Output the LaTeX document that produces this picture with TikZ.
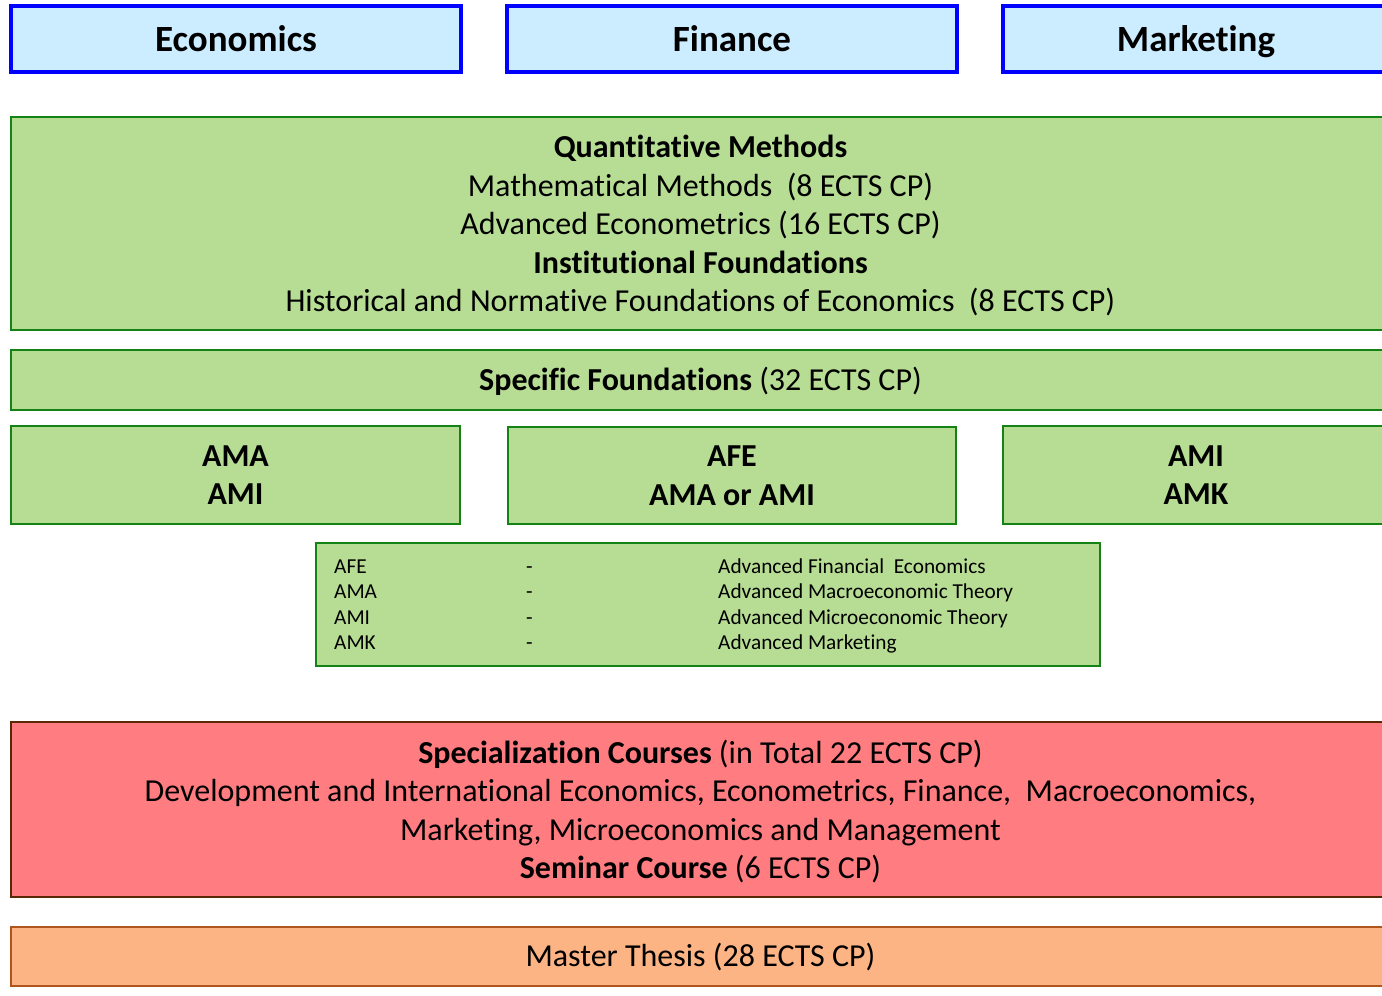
\documentclass[tikz,border=0pt]{standalone}
\usepackage{fontspec}
\setmainfont{Carlito}[Ligatures=CommonOff]
\usetikzlibrary{positioning}
\definecolor{trackblue}{RGB}{0,0,255}
\definecolor{trackfill}{RGB}{204,236,255}
\definecolor{basegreen}{RGB}{183,221,148}
\definecolor{basegreenline}{RGB}{20,130,20}
\definecolor{specred}{RGB}{255,124,128}
\definecolor{specredline}{RGB}{90,40,5}
\definecolor{thesisorange}{RGB}{253,180,132}
\definecolor{thesisline}{RGB}{175,85,30}

\newcommand{\headsize}{\fontsize{37}{44}\selectfont}
\newcommand{\bodysize}{\fontsize{32}{38.5}\selectfont}
\newcommand{\legendsize}{\fontsize{21.3}{25.3}\selectfont}

\tikzset{
  trackbox/.style={draw=trackblue, line width=4.5pt, fill=trackfill, inner sep=0pt,
    minimum height=66pt, text height=24pt, text depth=0pt, font=\headsize\bfseries},
  basebox/.style={draw=basegreenline, line width=2pt, fill=basegreen, inner sep=0pt,
    align=center, text depth=0pt, font=\bodysize},
  oneline/.style={text height=20.6pt, text depth=0pt},
  legendcol/.style={anchor=west, inner sep=0pt, align=left, font=\legendsize},
}

\begin{document}
\begin{tikzpicture}[x=1pt, y=-1pt]
\useasboundingbox (0,0) rectangle (1382,996);
\fill[white] (0,0) rectangle (1382,996);
\clip (0,0) rectangle (1382,996);

% study tracks
\node[trackbox, minimum width=450pt] (econ) at (236,39) {Economics};
\node[trackbox, minimum width=450pt] (fin) at (732,39) {Finance};
\node[trackbox, minimum width=386pt] (mkt) at (1196,39) {Marketing};

% common foundations
\node[basebox, minimum width=1379pt, minimum height=213pt] (quant) at (700.5,223.5) {
\textbf{Quantitative Methods}\\
Mathematical Methods~ (8 ECTS CP)\\
Advanced Econometrics (16 ECTS CP)\\
\textbf{Institutional Foundations}\\
Historical and Normative Foundations of Economics~ (8 ECTS CP)};
\node[basebox, oneline, minimum width=1379pt, minimum height=60pt] (spec) at (700.5,380) {\textbf{Specific Foundations} (32 ECTS CP)};

% track-specific foundations
\node[basebox, minimum width=449pt, minimum height=98pt, font=\bodysize\bfseries] (econfd) at (235.5,475) {AMA\\AMI};
\node[basebox, minimum width=448pt, minimum height=97pt, font=\bodysize\bfseries] (finfd) at (732,475.5) {AFE\\AMA or AMI};
\node[basebox, minimum width=386pt, minimum height=98pt, font=\bodysize\bfseries] (mktfd) at (1196,475) {AMI\\AMK};

% abbreviations
\node[basebox, minimum width=784pt, minimum height=123pt] (legend) at (708,604.5) {};
\node[legendcol] (abbr) at ([xshift=19pt,yshift=-2pt]legend.west) {\strut AFE\\\strut AMA\\\strut AMI\\\strut AMK};
\node[legendcol] (dash) at ([xshift=211pt,yshift=-2pt]legend.west) {\strut -\\\strut -\\\strut -\\\strut -};
\node[legendcol] (desc) at ([xshift=403pt,yshift=-2pt]legend.west) {\strut Advanced Financial~ Economics\\
\strut Advanced Macroeconomic Theory\\
\strut Advanced Microeconomic Theory\\
\strut Advanced Marketing};

% specialization and thesis
\node[draw=specredline, line width=2pt, fill=specred, inner sep=0pt, align=center, text depth=0pt,
  font=\bodysize, minimum width=1379pt, minimum height=175pt] (special) at (700.5,809.5) {
\textbf{Specialization Courses} (in Total 22 ECTS CP)\\
Development and International Economics, Econometrics, Finance,~ Macroeconomics,\\
Marketing, Microeconomics and Management\\
\textbf{Seminar Course} (6 ECTS CP)};
\node[draw=thesisline, line width=2pt, fill=thesisorange, inner sep=0pt, oneline, font=\bodysize,
  minimum width=1379pt, minimum height=59pt] (thesis) at (700.5,956.5) {Master Thesis (28 ECTS CP)};
\end{tikzpicture}
\end{document}
